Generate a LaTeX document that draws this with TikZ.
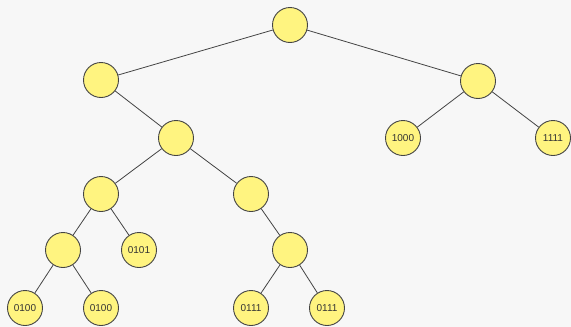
\documentclass[tikz,border=0pt]{standalone}
\usepackage{fontspec}
\setmainfont{Liberation Sans}
\usepackage{xcolor}
\usetikzlibrary{positioning}
\definecolor{bgcol}{HTML}{F7F7F7}
\definecolor{nodefill}{HTML}{FFF480}
\definecolor{nodeline}{HTML}{444444}
\definecolor{textcol}{HTML}{333333}

\begin{document}
\begin{tikzpicture}[
    x=1pt,y=-1pt,
    trie/.style={circle,draw=nodeline,fill=nodefill,line width=0.9pt,minimum size=35pt,inner sep=0pt,text=textcol,font=\fontsize{10}{12}\selectfont},
    edge/.style={draw=nodeline,line width=0.8pt}
]
    % Background
    \fill[bgcol] (0,0) rectangle (571,327);
    \useasboundingbox (0,0) rectangle (571,327);

    % Root and first level
    \node[trie] (root) at (290,25) {};
    \node[trie] (l) at (101,80) {};
    \node[trie] (r) at (478,81) {};

    % Right subtree
    \node[trie] (r0) at (403,138) {1000};
    \node[trie] (r1) at (553,138) {1111};

    % Left subtree
    \node[trie] (l1) at (176,138) {};
    \node[trie] (l10) at (101,194) {};
    \node[trie] (l11) at (251,194) {};
    \node[trie] (l100) at (63,250) {};
    \node[trie] (l101) at (139,250) {0101};
    \node[trie] (l111) at (290,250) {};

    % Leaves
    \node[trie] (a) at (25,308) {0100};
    \node[trie] (b) at (101,308) {0100};
    \node[trie] (c) at (251,308) {0111};
    \node[trie] (d) at (327,308) {0111};

    % Edges
    \draw[edge] (root) -- (l);
    \draw[edge] (root) -- (r);
    \draw[edge] (r) -- (r0);
    \draw[edge] (r) -- (r1);
    \draw[edge] (l) -- (l1);
    \draw[edge] (l1) -- (l10);
    \draw[edge] (l1) -- (l11);
    \draw[edge] (l10) -- (l100);
    \draw[edge] (l10) -- (l101);
    \draw[edge] (l11) -- (l111);
    \draw[edge] (l100) -- (a);
    \draw[edge] (l100) -- (b);
    \draw[edge] (l111) -- (c);
    \draw[edge] (l111) -- (d);
\end{tikzpicture}
\end{document}
